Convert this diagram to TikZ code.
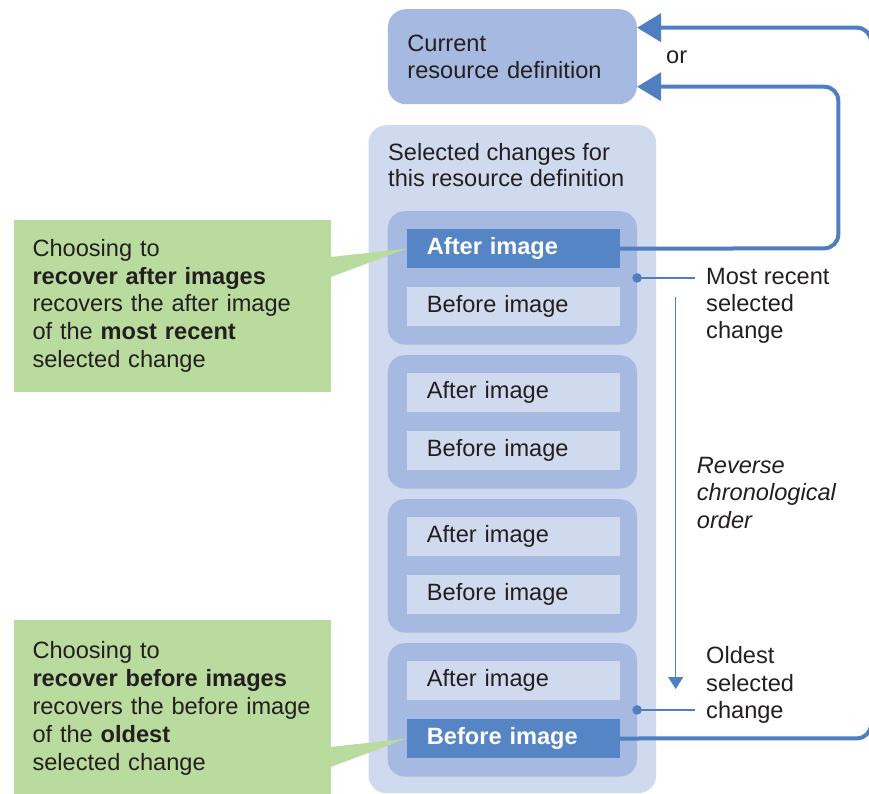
\documentclass[tikz,border=0pt]{standalone}
\usepackage{fontspec}
\setmainfont{Liberation Sans}
\usetikzlibrary{arrows.meta,calc}
\definecolor{txt}{HTML}{231F20}
\definecolor{pale}{HTML}{CFDAEE}
\definecolor{mid}{HTML}{A6B9E0}
\definecolor{dark}{HTML}{5585C5}
\definecolor{conn}{HTML}{4F7FC0}
\definecolor{grn}{HTML}{B9DB9D}
\begin{document}
\begin{tikzpicture}[x=1pt,y=-1pt,
  every node/.style={text=txt, font=\fontsize{23.6}{27.5}\selectfont},
  txtnode/.style={anchor=base west, inner sep=0pt, align=left},
  item/.style={anchor=north west, minimum height=39pt, text width=172.6pt, inner xsep=20pt, inner ysep=0pt, align=left, fill=pale, text height=17pt, text depth=5pt},
  hitem/.style={item, fill=dark, text=white, font=\fontsize{23.6}{27.5}\selectfont\bfseries},
  grp/.style={anchor=north west, fill=mid, rounded corners=17pt, minimum width=249.2pt, minimum height=133.4pt, inner sep=0pt},
  note/.style={anchor=north west, fill=grn, text width=279pt, inner xsep=19pt, inner ysep=19.5pt, align=left, font=\fontsize{23.6}{27.8}\selectfont},
  link/.style={draw=conn, line width=4pt, rounded corners=14pt},
  tip/.style={-{Triangle[length=24pt,width=28pt]}},
  thinlink/.style={draw=conn, line width=1.5pt},
]
\useasboundingbox (0,0) rectangle (869,793);

% container
\node[anchor=north west, fill=pale, rounded corners=18pt, minimum width=287.7pt, minimum height=668pt, inner sep=0pt] (sel) at (368.3,125) {};
\node[txtnode, font=\fontsize{23.6}{26}\selectfont] (seltitle) at (388,186.7) {Selected changes for\\this resource definition};

% current resource definition
\node[anchor=north west, fill=mid, rounded corners=18pt, minimum width=249pt, minimum height=95pt, text width=210pt, inner xsep=19.5pt, inner ysep=0pt, align=left, font=\fontsize{23.6}{26.7}\selectfont] (cur) at (387.7,9) {Current\\resource definition};

% groups
\node[grp] (g1) at (387.5,211) {};
\node[grp] (g2) at (387.5,355) {};
\node[grp] (g3) at (387.5,499) {};
\node[grp] (g4) at (387.5,643) {};

% items
\node[hitem] (a1) at (406.7,229) {After image};
\node[item] (b1) at (406.7,286.8) {Before image};
\node[item] (a2) at (406.7,373) {After image};
\node[item] (b2) at (406.7,430.8) {Before image};
\node[item] (a3) at (406.7,517) {After image};
\node[item] (b3) at (406.7,574.8) {Before image};
\node[item] (a4) at (406.7,661) {After image};
\node[hitem] (b4) at (406.7,718.8) {Before image};

% notes
\node[note] (n1) at (13.3,219.5) {Choosing to\\\textbf{recover after images}\\recovers the after image\\of the \textbf{most recent}\\selected change};
\fill[grn] (n1.east |- 0,257) -- (a1.west) -- (n1.east |- 0,277) -- cycle;
\node[note, inner ysep=21.5pt] (n2) at (13.3,620) {Choosing to\\\textbf{recover before images}\\recovers the before image\\of the \textbf{oldest}\\selected change};
\fill[grn] (n2.east |- 0,747) -- (b4.west) -- (n2.east |- 0,767) -- cycle;

% connectors to current
\draw[link, tip] (a1.east) -- (838.3,248.3) -- (838.3,86.7) -- (cur.east |- 0,86.7);
\draw[link, tip] (b4.east) -- (871,738.3) -- (871,27.7) -- (cur.east |- 0,27.7);
\node[txtnode] (or) at (666,63) {or};

% labels on the right
\node[txtnode, font=\fontsize{23.6}{26.8}\selectfont] (recent) at (706,338.5) {Most recent\\selected\\change};
\node[txtnode, font=\fontsize{23.6}{27.6}\selectfont\itshape] (rev) at (696.7,528.3) {Reverse\\chronological\\order};
\node[txtnode, font=\fontsize{23.6}{27.5}\selectfont] (oldest) at (706,718.5) {Oldest\\selected\\change};

\fill[conn] (g1.east) circle (4.8pt);
\draw[thinlink] (g1.east) -- (695,0 |- g1.east);
\fill[conn] (g4.east) circle (4.8pt);
\draw[thinlink] (g4.east) -- (695,0 |- g4.east);

\coordinate (rtop) at (675.7,297);
\coordinate (rbot) at (675.7,689);
\draw[thinlink, -{Triangle[length=12pt,width=15pt]}] (rtop) -- (rbot);
\end{tikzpicture}
\end{document}
